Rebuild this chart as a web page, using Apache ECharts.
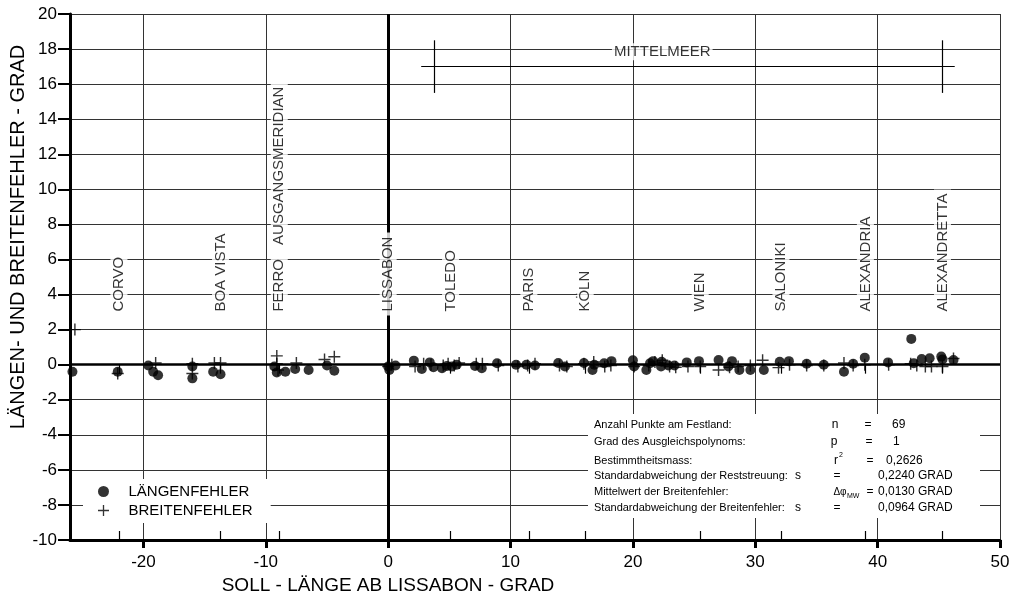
<!DOCTYPE html>
<html><head><meta charset="utf-8">
<script src="https://cdn.jsdelivr.net/npm/echarts@6/dist/echarts.min.js"></script>
<style>html,body{margin:0;padding:0;background:#fff}#c{width:1012px;height:592px}</style>
</head><body><div id="c"></div>
<script>
// ---- data ----
const xTicks = [-20, -10, 0, 10, 20, 30, 40, 50];
const cityNames = ['CORVO','BOA VISTA','FERRO','AUSGANGSMERIDIAN','LISSABON','TOLEDO','PARIS','KÖLN','WIEN','SALONIKI','ALEXANDRIA','ALEXANDRETTA'];
const cityX     = [-22.0, -13.7, -8.9, -8.9, 0.0, 5.1, 11.5, 16.1, 25.5, 32.1, 39.0, 45.3];
const cityLabelY= [2.8, 2.8, 2.8, 6.6, 2.8, 2.8, 2.8, 2.8, 2.8, 2.8, 2.8, 2.8];
const cityTickX = [-22.0, -13.7, -8.9, 5.1, 11.5, 16.1, 25.5, 32.1, 39.0, 45.3];
const medStartEnd = [2.7, 46.3];
const medTicks = [3.8, 45.3];
const medY = 17;
const medTickRange = [15.5, 18.5];
const medLabel = ['MITTELMEER', 22.4, 17.85];

const laengenX = [-25.8,-22.1,-19.6,-19.2,-18.8,-16.0,-16.0,-14.3,-13.7,-9.3,-9.1,-8.4,-7.6,-6.5,-5.0,-4.4,
  0.0,0.1,0.6,2.1,2.75,3.4,3.7,4.4,4.8,5.2,5.6,7.1,7.65,8.9,10.45,11.3,12.0,
  13.9,14.45,16.0,16.7,16.85,17.65,18.25,20.0,20.1,21.1,21.4,21.65,22.35,22.3,22.9,23.4,24.4,25.4,27.0,27.8,28.1,28.7,29.6,30.7,
  32.0,32.75,34.2,35.6,37.25,38.0,38.95,40.85,42.75,42.95,43.6,44.25,45.2,45.3,46.2];
const laengenY = [-0.4,-0.4,-0.05,-0.4,-0.6,-0.1,-0.78,-0.4,-0.55,-0.1,-0.45,-0.4,-0.25,-0.3,-0.05,-0.35,
  -0.1,-0.3,-0.05,0.23,-0.25,0.13,-0.15,-0.2,-0.07,-0.1,0.0,-0.08,-0.2,0.08,0.0,0.0,-0.05,
  0.1,-0.1,0.1,-0.3,0.0,0.08,0.2,0.25,-0.1,-0.3,0.08,0.2,0.17,-0.1,-0.05,-0.05,0.13,0.2,0.27,-0.1,0.2,-0.3,-0.3,-0.3,
  0.17,0.2,0.05,0.0,-0.4,0.05,0.4,0.13,1.47,0.08,0.32,0.37,0.46,0.3,0.27];

const breitenX = [-25.6,-22.1,-19.0,-16.0,-16.0,-14.2,-13.7,-9.1,-9.1,-9.0,-7.5,-5.2,-4.4,
  0.0,0.3,2.2,2.9,3.5,4.5,4.9,5.4,5.8,7.2,7.7,9.0,10.6,11.4,12.0,
  14.0,14.6,16.0,16.8,17.7,18.2,20.1,21.3,21.8,22.4,23.0,23.5,24.5,25.5,
  27.0,27.9,28.6,29.6,30.6,31.9,32.8,34.2,35.6,37.25,38.0,38.95,40.9,
  42.7,43.2,43.9,44.4,45.3,46.2];
const breitenY = [2.0,-0.5,0.1,0.05,-0.5,0.1,0.1,0.5,0.05,-0.3,0.1,0.3,0.45,
  -0.1,0.0,-0.1,0.05,0.0,-0.05,0.05,-0.05,0.1,0.05,0.05,-0.05,-0.1,-0.05,0.05,
  -0.05,-0.1,0.05,0.15,-0.1,-0.05,-0.1,-0.05,0.15,0.25,-0.1,-0.15,-0.1,-0.1,
  -0.3,-0.15,-0.1,-0.05,0.25,-0.17,0.0,-0.05,-0.05,0.1,-0.05,0.0,0.0,
  0.05,-0.05,-0.1,-0.1,-0.1,0.35];

const statLabels = ['Anzahl Punkte am Festland:','Grad des Ausgleichspolynoms:','Bestimmtheitsmass:','Standardabweichung der Reststreuung:','Mittelwert der Breitenfehler:','Standardabweichung der Breitenfehler:'];
const statSymbols = ['n','p','r','s','Δφ','s'];
const statValues = ['69','1','0,2626','0,2240 GRAD','0,0130 GRAD','0,0964 GRAD'];

// ---- build ----
const FONT = 'Liberation Sans, Arial, sans-serif';
const zip = (a,b) => a.map((v,i)=>[v,b[i]]);
const plusPath = 'path://M0,4.4H10V5.6H0Z M4.4,0H5.6V10H4.4Z';

const chart = echarts.init(document.getElementById('c'), null, {renderer:'canvas'});

// stats box layout (pixels)
const rowY = [425,442,461,476,492,508];
const symX = [835,834,836,798,840,798];
const eqX  = [868,869,870,837,870,837];
const valX = [892,893,886,878,878,878];
const graphics = [{type:'rect', shape:{x:588,y:414,width:392,height:104}, style:{fill:'#fff'}, z:50}];
statLabels.forEach((t,i)=>{
  graphics.push({type:'text', z:51, style:{text:t, x:594, y:rowY[i], fill:'#000', font:'11px '+FONT, textAlign:'left', textVerticalAlign:'middle', verticalAlign:'middle'}});
  graphics.push({type:'text', z:51, style:{text:statSymbols[i], x:symX[i], y:rowY[i], fill:'#000', font:(i===4?'10px ':'12px ')+FONT, textAlign:'center', textVerticalAlign:'middle', verticalAlign:'middle'}});
  graphics.push({type:'text', z:51, style:{text:'=', x:eqX[i], y:rowY[i], fill:'#000', font:'12px '+FONT, textAlign:'center', textVerticalAlign:'middle', verticalAlign:'middle'}});
  graphics.push({type:'text', z:51, style:{text:statValues[i], x:valX[i], y:rowY[i], fill:'#000', font:'12px '+FONT, textAlign:'left', textVerticalAlign:'middle', verticalAlign:'middle'}});
});
graphics.push({type:'text', z:51, style:{text:'2', x:839, y:455, fill:'#000', font:'7px '+FONT, textAlign:'left', textVerticalAlign:'middle', verticalAlign:'middle'}});
graphics.push({type:'text', z:51, style:{text:'MW', x:847, y:496, fill:'#000', font:'7px '+FONT, textAlign:'left', textVerticalAlign:'middle', verticalAlign:'middle'}});

const medLines = [
  [{coord:[medStartEnd[0], medY]}, {coord:[medStartEnd[1], medY]}],
  [{coord:[medTicks[0], medTickRange[0]]}, {coord:[medTicks[0], medTickRange[1]]}],
  [{coord:[medTicks[1], medTickRange[0]]}, {coord:[medTicks[1], medTickRange[1]]}]
];

const axisCommon = {min:-26, max:50, type:'value'};

chart.setOption({
  animation:false,
  backgroundColor:'#fff',
  textStyle:{fontFamily:FONT},
  grid:{left:70, right:12, top:14, bottom:52, containLabel:false, outerBoundsMode:'none'},
  xAxis:[
    Object.assign({}, axisCommon, {
      position:'bottom',
      axisLine:{show:true, onZero:false, lineStyle:{color:'#000', width:3}},
      axisTick:{show:true, customValues:xTicks, length:8, lineStyle:{color:'#000', width:3}},
      axisLabel:{customValues:xTicks, fontSize:17, color:'#000', margin:14, fontFamily:FONT},
      splitLine:{show:true, lineStyle:{color:'#333', width:1}},
      name:'SOLL - LÄNGE AB LISSABON - GRAD', nameLocation:'middle', nameGap:33,
      nameTextStyle:{fontSize:19, color:'#000', fontFamily:FONT, padding:[0,294,0,0]}
    }),
    Object.assign({}, axisCommon, {
      position:'bottom', axisLine:{show:false}, axisLabel:{show:false}, splitLine:{show:false},
      axisTick:{show:true, customValues:cityTickX, length:9, lineStyle:{color:'#000', width:1.2}}
    }),
    Object.assign({}, axisCommon, {
      position:'bottom', axisLine:{show:false}, axisLabel:{show:false}, splitLine:{show:false},
      axisTick:{show:true, inside:true, customValues:cityTickX, length:9, lineStyle:{color:'#000', width:1.2}}
    })
  ],
  yAxis:{
    type:'value', min:-10, max:20, interval:2,
    axisLine:{show:true, onZero:false, lineStyle:{color:'#000', width:3}},
    axisTick:{show:true, length:12, lineStyle:{color:'#000', width:2}},
    axisLabel:{fontSize:17, color:'#000', margin:13, fontFamily:FONT},
    splitLine:{show:true, lineStyle:{color:'#333', width:1}},
    name:'LÄNGEN- UND BREITENFEHLER - GRAD', nameLocation:'middle', nameGap:42, nameMoveOverlap:false,
    nameTextStyle:{fontSize:20, color:'#000', fontFamily:FONT, padding:[0,0,0,80]}
  },
  legend:{
    left:83, top:479, orient:'vertical', itemGap:4, itemWidth:40, itemHeight:11,
    backgroundColor:'#fff', padding:[5,18,5,15],
    textStyle:{fontSize:15, color:'#000', fontFamily:FONT},
    data:[{name:'LÄNGENFEHLER', icon:'circle'}, {name:'BREITENFEHLER', icon:plusPath}]
  },
  graphic:graphics,
  series:[
    {
      type:'line', data:[], silent:true, z:1,
      markLine:{
        silent:true, symbol:['none','none'], label:{show:false},
        data:[
          {xAxis:0, lineStyle:{color:'#000', width:3, type:'solid'}},
          {yAxis:0, lineStyle:{color:'#000', width:2.5, type:'solid'}}
        ].concat(medLines.map(s=>[Object.assign({lineStyle:{color:'#000', width:1.2, type:'solid'}}, s[0]), s[1]]))
      }
    },
    {
      type:'scatter', name:'BREITENFEHLER', data:zip(breitenX, breitenY), z:3,
      symbol:plusPath, symbolSize:12, itemStyle:{color:'#000'}
    },
    {
      type:'scatter', name:'LÄNGENFEHLER', data:zip(laengenX, laengenY), z:4,
      symbol:'circle', symbolSize:10, itemStyle:{color:'#000'}
    },
    {
      type:'scatter', silent:true, z:6, symbolSize:0,
      data:cityNames.map((n,i)=>({name:n, value:[cityX[i], cityLabelY[i]]})),
      label:{show:true, formatter:p=>p.name, rotate:90, position:'inside', align:'left', verticalAlign:'middle',
        fontSize:15, color:'#000', fontFamily:FONT, backgroundColor:'#fff', padding:[1,4,1,4]}
    },
    {
      type:'scatter', silent:true, z:6, symbolSize:0,
      data:[{name:medLabel[0], value:[medLabel[1], medLabel[2]]}],
      label:{show:true, formatter:p=>p.name, position:'inside', align:'center', verticalAlign:'middle',
        fontSize:15, color:'#000', fontFamily:FONT, backgroundColor:'#fff', padding:[1,2,1,2]}
    }
  ]
});
</script></body></html>
